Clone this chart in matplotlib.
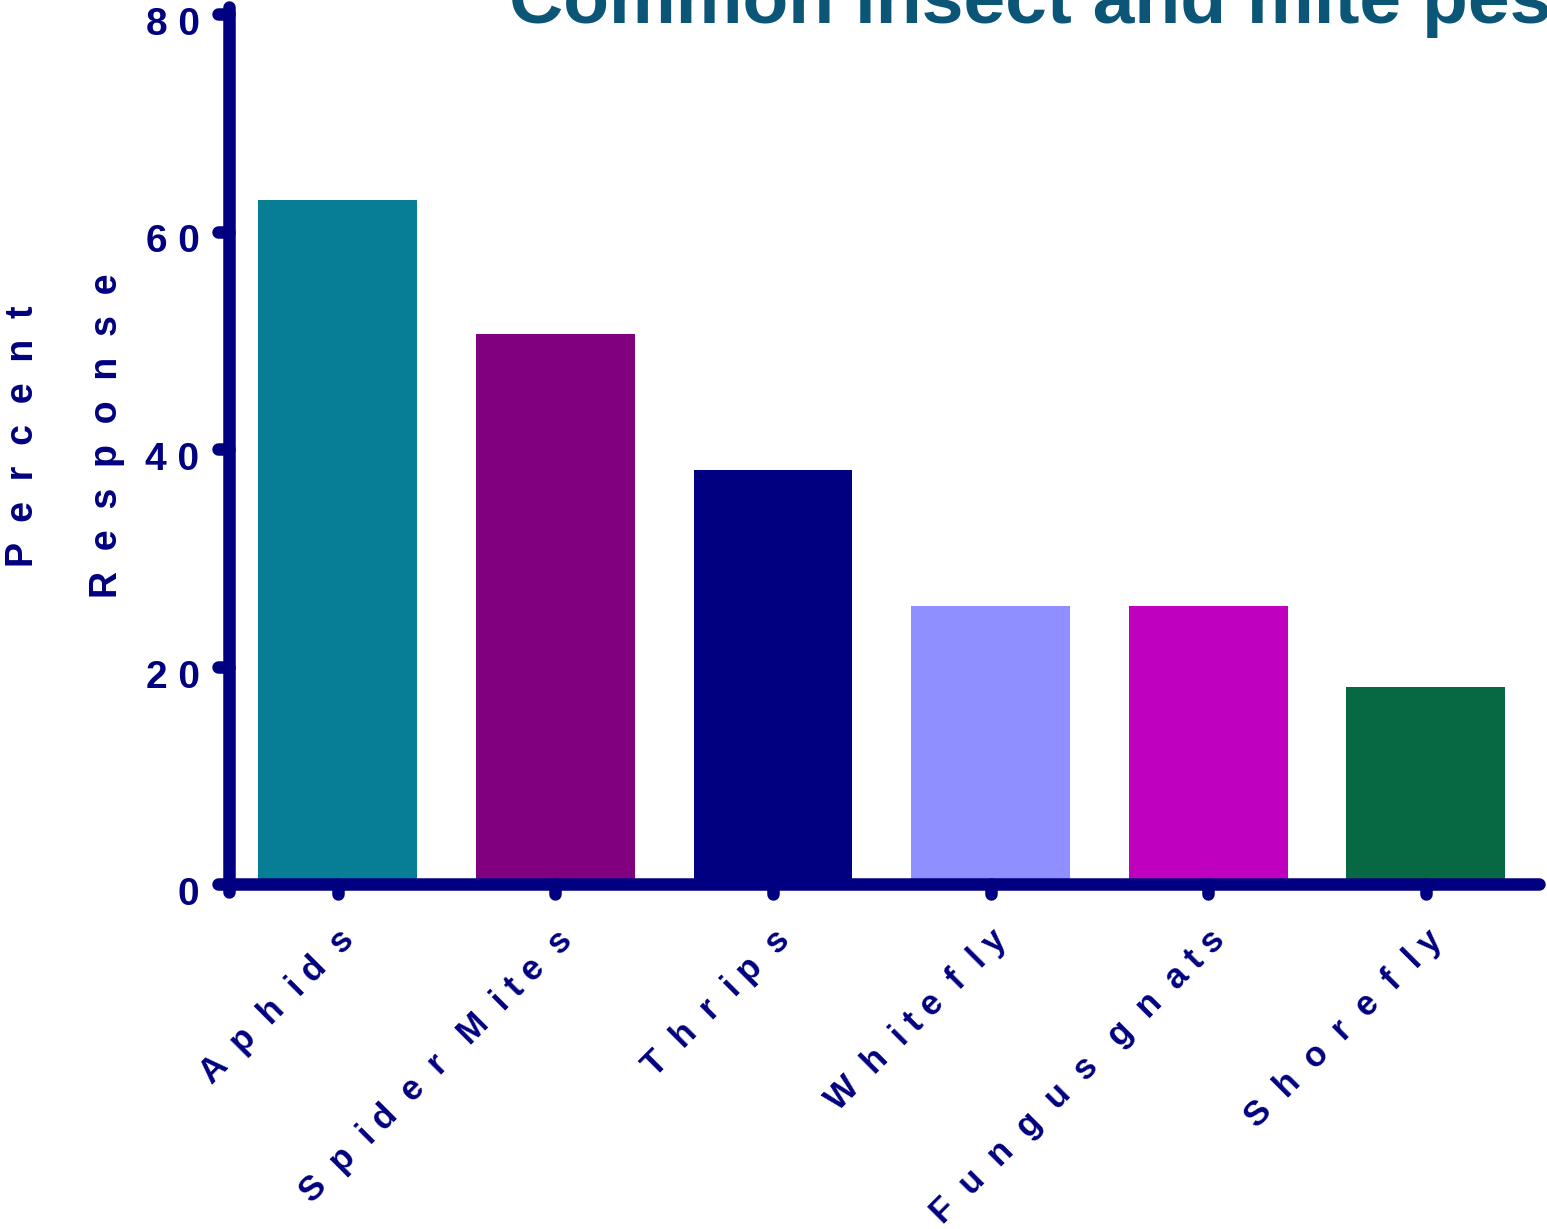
import matplotlib
matplotlib.use("Agg")
import matplotlib.pyplot as plt
from matplotlib.lines import Line2D
from matplotlib.transforms import offset_copy

plt.rcParams['font.family'] = ['Liberation Sans', 'DejaVu Sans']
plt.rcParams['font.weight'] = 'bold'

# Survey data: share of respondents reporting each pest
pests = ["Aphids", "Spider Mites", "Thrips", "Whitefly", "Fungus gnats", "Shorefly"]
pest_labels = ["A  p  h  i d  s",
               "S  p  i d  e  r   M  i t e  s",
               "T  h  r  i p  s",
               "W  h  i t e  f  l y",
               "F  u  n  g  u  s   g  n  a t s",
               "S  h  o  r  e  f  l y"]
percent = [62.9, 50.6, 38.1, 25.6, 25.6, 18.1]
bar_colors = ["#087e96", "#800080", "#000080", "#8f8fff", "#bf00bf", "#066944"]
yticks = [0, 20, 40, 60, 80]
ytick_labels = ["0", "2 0", "4 0", "6 0", "8 0"]
title = "Common insect and mite pests"
ylabel = "P  e  r  c  e  n  t\nR  e  s  p  o  n  s  e"

NAVY = "#000080"
W, H = 1547, 1229
fig = plt.figure(figsize=(W / 100, H / 100), dpi=100)
fig.patch.set_facecolor("white")

ax_left, ax_bottom, ax_w, ax_h = 229, 345, 1316.5, 870
ax = fig.add_axes([ax_left / W, ax_bottom / H, ax_w / W, ax_h / H])
ax.set_facecolor("none")

x = list(range(len(pests)))
ax.bar(x, percent, width=0.73, color=bar_colors, zorder=1)
ax.set_xlim(-0.5, 5.55)
ax.set_ylim(0, 80)

# Heavy rounded axis lines
for side in ("top", "right"):
    ax.spines[side].set_visible(False)
for side in ("left", "bottom"):
    sp = ax.spines[side]
    sp.set_linewidth(9)
    sp.set_color(NAVY)
    sp.set_capstyle("round")
    sp.set_zorder(3)
ax.spines["left"].set_bounds(-0.7, 80.6)
ax.spines["bottom"].set_bounds(-0.5, 5.52)

ax.set_xticks([])
ax.set_yticks([])

# Rounded tick stubs
ytrans = ax.get_yaxis_transform()
xtrans = ax.get_xaxis_transform()
for v in yticks:
    ax.add_line(Line2D([0, -11 / ax_w], [v, v], transform=ytrans, color=NAVY,
                       lw=9, solid_capstyle="round", clip_on=False, zorder=3))
for i in x:
    ax.add_line(Line2D([i, i], [0, -10 / ax_h], transform=xtrans, color=NAVY,
                       lw=9, solid_capstyle="round", clip_on=False, zorder=3))

# Tick labels
ylab_trans = offset_copy(ytrans, fig=fig, x=-29.5, y=-21, units="dots")
for v, lab in zip(yticks, ytick_labels):
    ax.text(0, v, lab, transform=ylab_trans, ha="right", va="baseline",
            fontsize=28, color=NAVY, fontweight="bold")

xlab_trans = offset_copy(ax.transData, fig=fig, x=18, y=-58, units="dots")
for i, lab in zip(x, pest_labels):
    ax.text(i, 0, lab, transform=xlab_trans, rotation=45, rotation_mode="anchor",
            ha="right", va="baseline", fontsize=25, color=NAVY, fontweight="bold")

# Axis title, two lines
fig.text(65 / W, (H - 436) / H, ylabel, rotation=90, ha="center", va="center",
         multialignment="center", fontsize=27, color=NAVY, fontweight="bold",
         linespacing=2.7)

# Chart title
fig.text(509 / W, (H - 23) / H, title, ha="left", va="baseline", fontsize=54,
         color="#0b5577", fontweight="bold")

fig.savefig("out.png", dpi=100, facecolor="white")
